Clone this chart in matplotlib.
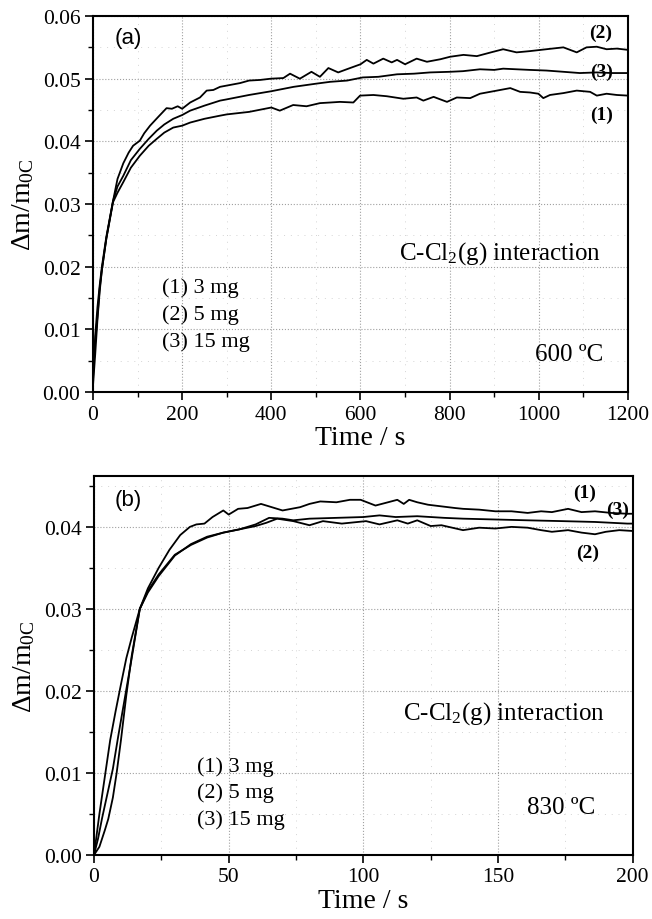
import matplotlib
matplotlib.use("Agg")
import matplotlib.pyplot as plt
from matplotlib.ticker import MultipleLocator

plt.rcParams['font.family'] = ['Liberation Serif', 'DejaVu Serif']
plt.rcParams['mathtext.default'] = 'regular'

# === DATA: panel (a), 600 C ===
t_a1 = [0, 5, 10, 15, 20, 30, 45, 55, 68, 85, 105, 125, 143, 160, 180, 200, 218, 250, 285, 300,
        350, 400, 419, 449, 479, 509, 532, 554, 584, 599, 629, 659, 696, 726, 741, 764, 794, 816,
        846, 868, 906, 936, 958, 980, 999, 1010, 1025, 1055, 1085, 1115, 1130, 1152, 1175, 1200]
y_a1 = [0.001, 0.006, 0.0115, 0.016, 0.0195, 0.0245, 0.0303, 0.0318, 0.0335, 0.0358, 0.0377,
        0.0393, 0.0404, 0.0414, 0.0422, 0.0425, 0.0430, 0.0436, 0.0441, 0.0443, 0.0447, 0.0454,
        0.0449, 0.0458, 0.0456, 0.0461, 0.0462, 0.0463, 0.0462, 0.0473, 0.0474, 0.0472, 0.0468,
        0.0470, 0.0465, 0.0471, 0.0463, 0.0470, 0.0469, 0.0476, 0.0481, 0.0485, 0.0479, 0.0478,
        0.0476, 0.0469, 0.0474, 0.0477, 0.0481, 0.0479, 0.0473, 0.0476, 0.0474, 0.0473]

t_a2 = [0, 5, 10, 15, 20, 30, 45, 55, 68, 80, 90, 105, 115, 128, 145, 165, 177, 190, 200, 218,
        240, 255, 270, 285, 300, 330, 350, 375, 399, 427, 442, 464, 490, 509, 528, 550, 569, 600,
        614, 629, 651, 670, 682, 700, 726, 749, 779, 801, 831, 861, 898, 920, 950, 980, 1017,
        1055, 1085, 1107, 1130, 1152, 1175, 1200]
y_a2 = [0.003, 0.008, 0.012, 0.0165, 0.0195, 0.0245, 0.0305, 0.0340, 0.0365, 0.0382, 0.0393,
        0.0401, 0.0413, 0.0425, 0.0438, 0.0453, 0.0452, 0.0456, 0.0452, 0.0462, 0.0470, 0.0481,
        0.0482, 0.0487, 0.0489, 0.0493, 0.0497, 0.0498, 0.0500, 0.0501, 0.0508, 0.0500, 0.0511,
        0.0503, 0.0517, 0.0510, 0.0515, 0.0523, 0.0530, 0.0524, 0.0532, 0.0526, 0.0530, 0.0523,
        0.0532, 0.0527, 0.0531, 0.0535, 0.0538, 0.0536, 0.0543, 0.0547, 0.0542, 0.0544, 0.0547,
        0.0550, 0.0542, 0.0550, 0.0551, 0.0547, 0.0548, 0.0546]

t_a3 = [0, 5, 10, 15, 20, 30, 45, 55, 68, 85, 105, 125, 143, 160, 180, 200, 218, 250, 285, 300,
        350, 400, 450, 500, 532, 570, 605, 640, 682, 720, 756, 801, 830, 868, 900, 920, 950, 980,
        1017, 1055, 1092, 1130, 1165, 1200]
y_a3 = [0.002, 0.009, 0.0135, 0.017, 0.020, 0.0248, 0.0305, 0.0328, 0.0345, 0.0370, 0.0388,
        0.0404, 0.0417, 0.0427, 0.0436, 0.0442, 0.0449, 0.0457, 0.0465, 0.0467, 0.0474, 0.0480,
        0.0487, 0.0492, 0.0495, 0.0497, 0.0502, 0.0503, 0.0507, 0.0508, 0.0510, 0.0511, 0.0512,
        0.0515, 0.0514, 0.0516, 0.0515, 0.0514, 0.0513, 0.0511, 0.0509, 0.0510, 0.0509, 0.0509]

# === DATA: panel (b), 830 C ===
t_b1 = [0, 2, 4, 6, 8, 10, 12, 14, 17, 20, 24, 28, 32, 35.6, 38, 41, 44, 48, 50, 53.5, 57, 62,
        66, 70, 76.5, 80, 84, 90, 95, 99, 104.5, 108, 112.6, 115, 117, 120, 124, 129, 134, 137,
        143, 149, 155, 161, 166, 170, 176, 181, 186, 192, 198, 200]
y_b1 = [0, 0.005, 0.0095, 0.014, 0.0175, 0.0208, 0.0240, 0.0265, 0.0300, 0.0325, 0.0350, 0.0372,
        0.0390, 0.0400, 0.0403, 0.0404, 0.0412, 0.0420, 0.0415, 0.0422, 0.0423, 0.0428, 0.0424,
        0.0420, 0.0424, 0.0428, 0.0431, 0.0430, 0.0433, 0.0433, 0.0426, 0.0429, 0.0433, 0.0428,
        0.0433, 0.0430, 0.0427, 0.0425, 0.0423, 0.0422, 0.0421, 0.0419, 0.0419, 0.0417, 0.0419,
        0.0418, 0.0422, 0.0418, 0.0419, 0.0417, 0.0416, 0.0416]

t_b2 = [0, 1.5, 3, 5, 7, 9, 12, 14, 17, 20, 24, 30, 36, 42, 48, 54, 60, 64, 68, 74, 80, 85, 92,
        101, 106, 112.6, 116.5, 120, 125, 129, 137, 143, 149, 155, 161, 166, 170, 176, 181, 186,
        190, 195, 200]
y_b2 = [0, 0.002, 0.0045, 0.0075, 0.0105, 0.0145, 0.0202, 0.0240, 0.0300, 0.0320, 0.0340,
        0.0365, 0.0379, 0.0388, 0.0393, 0.0397, 0.0401, 0.0405, 0.0410, 0.0407, 0.0402, 0.0407,
        0.0404, 0.0407, 0.0403, 0.0408, 0.0404, 0.0408, 0.0401, 0.0402, 0.0396, 0.0399, 0.0398,
        0.0400, 0.0399, 0.0396, 0.0394, 0.0396, 0.0393, 0.0391, 0.0394, 0.0396, 0.0395]

t_b3 = [0, 2, 4, 5.3, 7, 8.4, 10, 12, 14, 17, 20, 24, 30, 36, 42, 48, 54, 60, 65, 70, 74, 80,
        90, 100, 106, 112, 120, 130, 137, 149, 161, 174, 186, 198, 200]
y_b3 = [0, 0.001, 0.003, 0.0044, 0.007, 0.010, 0.014, 0.0195, 0.0243, 0.0300, 0.0322, 0.0342,
        0.0366, 0.0378, 0.0387, 0.0393, 0.0397, 0.0403, 0.0411, 0.0410, 0.0408, 0.0410, 0.0411,
        0.0412, 0.0414, 0.0412, 0.0413, 0.0411, 0.0410, 0.0409, 0.0408, 0.0407, 0.0406, 0.0404,
        0.0404]

legend_lines = ["(1) 3 mg", "(2) 5 mg", "(3) 15 mg"]
ylabel = "Δm/m$_{0C}$"
xlabel = "Time / s"
inter_text = "C-Cl$_2$(g) interaction"


def style_axes(ax, xmax, ymax, xmaj, xmin):
    ax.set_xlim(0, xmax)
    ax.set_ylim(0, ymax)
    ax.xaxis.set_major_locator(MultipleLocator(xmaj))
    ax.xaxis.set_minor_locator(MultipleLocator(xmin))
    ax.yaxis.set_major_locator(MultipleLocator(0.01))
    ax.yaxis.set_minor_locator(MultipleLocator(0.005))
    ax.yaxis.set_major_formatter(plt.FuncFormatter(lambda v, p: f"{v:.2f}"))
    ax.tick_params(which="major", direction="out", length=6, width=1.2, labelsize=15.5, pad=3,
                   top=False, right=False)
    ax.tick_params(which="minor", direction="out", length=3.5, width=1.0, top=False, right=False)
    ax.grid(which="major", ls=":", color="#a0a0a0", lw=0.8)
    ax.grid(which="minor", ls=(0, (1, 6)), color="#d4d4d4", lw=0.7)
    ax.set_axisbelow(True)
    for s in ax.spines.values():
        s.set_linewidth(1.5)
    ax.set_xlabel(xlabel, fontsize=20, labelpad=1)
    ax.set_ylabel(ylabel, fontsize=20, labelpad=5)


fig = plt.figure(figsize=(6.52, 9.2), dpi=100)

# --- panel (a)
ax1 = fig.add_axes([0.1426, 0.5728, 0.8206, 0.4087])
ax1.plot(t_a1, y_a1, color="black", lw=1.3)
ax1.plot(t_a2, y_a2, color="black", lw=1.3)
ax1.plot(t_a3, y_a3, color="black", lw=1.3)
style_axes(ax1, 1200, 0.06, 200, 100)
ax1.text(0.041, 0.944, "(a)", transform=ax1.transAxes, fontsize=16, family="Liberation Sans",
         va="center", ha="left")
ax1.text(0.948, 0.957, "(2)", transform=ax1.transAxes, fontsize=14, weight="bold", ha="center", va="center")
ax1.text(0.950, 0.854, "(3)", transform=ax1.transAxes, fontsize=14, weight="bold", ha="center", va="center")
ax1.text(0.950, 0.739, "(1)", transform=ax1.transAxes, fontsize=14, weight="bold", ha="center", va="center")
ax1.text(0.9495, 0.372, inter_text, transform=ax1.transAxes, fontsize=18, ha="right", va="center")
ax1.text(0.953, 0.101, "600 ºC", transform=ax1.transAxes, fontsize=18, ha="right", va="center")
for i, s in enumerate(legend_lines):
    ax1.text(0.129, 0.279 - i * 0.0718, s, transform=ax1.transAxes, fontsize=16, ha="left", va="center")

# --- panel (b)
ax2 = fig.add_axes([0.1442, 0.0696, 0.8262, 0.4119])
ax2.plot(t_b1, y_b1, color="black", lw=1.3)
ax2.plot(t_b2, y_b2, color="black", lw=1.3)
ax2.plot(t_b3, y_b3, color="black", lw=1.3)
style_axes(ax2, 200, 0.0462, 50, 25)
ax2.text(0.039, 0.939, "(b)", transform=ax2.transAxes, fontsize=16, family="Liberation Sans",
         va="center", ha="left")
ax2.text(0.911, 0.958, "(1)", transform=ax2.transAxes, fontsize=14, weight="bold", ha="center", va="center")
ax2.text(0.971, 0.913, "(3)", transform=ax2.transAxes, fontsize=14, weight="bold", ha="center", va="center")
ax2.text(0.917, 0.799, "(2)", transform=ax2.transAxes, fontsize=14, weight="bold", ha="center", va="center")
ax2.text(0.949, 0.377, inter_text, transform=ax2.transAxes, fontsize=18, ha="right", va="center")
ax2.text(0.930, 0.127, "830 ºC", transform=ax2.transAxes, fontsize=18, ha="right", va="center")
for i, s in enumerate(legend_lines):
    ax2.text(0.191, 0.235 - i * 0.07, s, transform=ax2.transAxes, fontsize=16, ha="left", va="center")

fig.savefig("out.png", dpi=100)
